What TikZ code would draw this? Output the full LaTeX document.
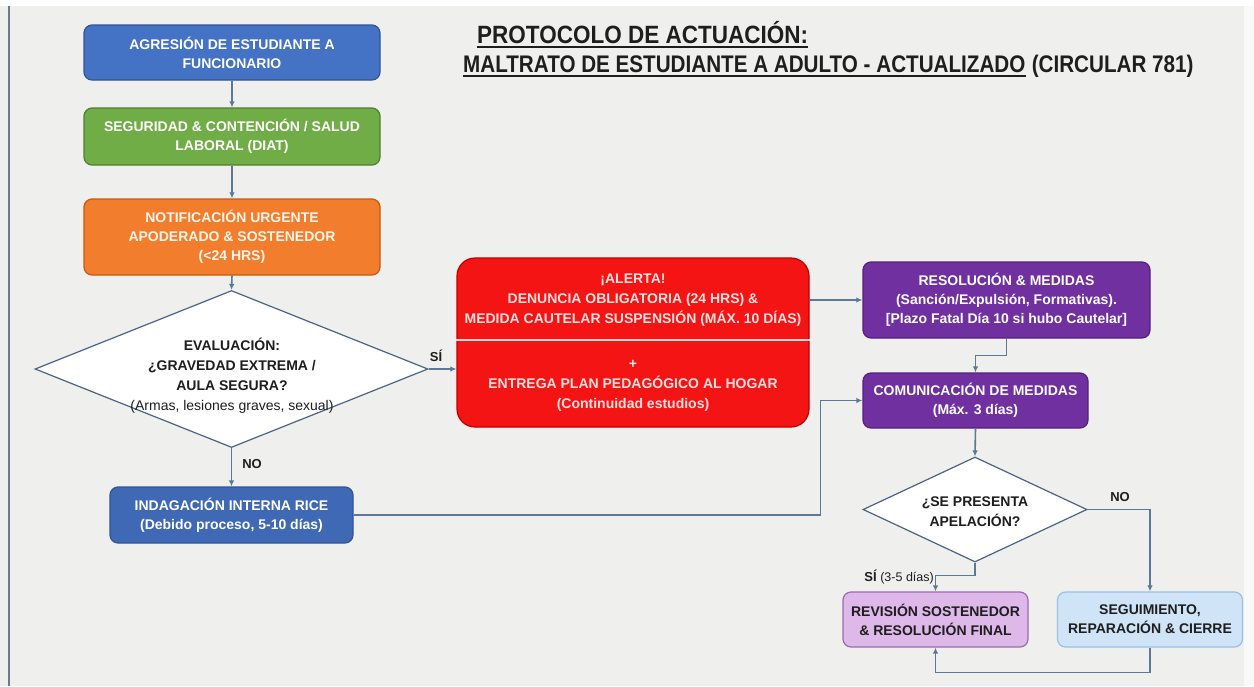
\documentclass[tikz,border=0pt]{standalone}
\usepackage{fontspec}
\setmainfont{Liberation Sans}
\newfontfamily\tA{Liberation Sans}[FakeStretch=0.9]
\newfontfamily\tB{Liberation Sans}[FakeStretch=0.86]
\usetikzlibrary{shapes.geometric,arrows.meta,calc}
\definecolor{bgcol}{HTML}{EFEFED}
\definecolor{framecol}{HTML}{6E7A8A}
\definecolor{blueF}{HTML}{4472C4}
\definecolor{blueD}{HTML}{2F5597}
\definecolor{greenF}{HTML}{70AD47}
\definecolor{greenD}{HTML}{507E32}
\definecolor{orangeF}{HTML}{F27D2C}
\definecolor{orangeD}{HTML}{C55A11}
\definecolor{redF}{HTML}{F41414}
\definecolor{redD}{HTML}{C00000}
\definecolor{purpF}{HTML}{7030A0}
\definecolor{purpD}{HTML}{55207E}
\definecolor{lpurpF}{HTML}{DDB8E8}
\definecolor{lpurpD}{HTML}{9A6AB4}
\definecolor{lblueF}{HTML}{CFE4F7}
\definecolor{lblueD}{HTML}{9DBFE0}
\definecolor{lineC}{HTML}{5B7896}
\definecolor{darkT}{HTML}{1E1E1E}
\definecolor{diaD}{HTML}{4A6482}
\begin{document}
\begin{tikzpicture}[x=1pt,y=-1pt,
  box/.style={rounded corners=8pt, draw, line width=1.2pt, align=center,
    font={\bfseries\fontsize{14}{19}\selectfont}, text=white, inner sep=0pt},
  dia/.style={diamond, draw=diaD, fill=white, line width=1.2pt, inner sep=0pt, aspect=2.5},
  dtext/.style={align=center, text=darkT, font={\bfseries\fontsize{14}{20}\selectfont}, inner sep=0pt},
  lab/.style={text=darkT, font={\bfseries\fontsize{13}{16}\selectfont}, inner sep=0pt},
  conn/.style={draw=lineC, line width=1.6pt, -{Latex[length=6pt,width=5.5pt]}},
  ttl/.style={anchor=base west, inner sep=0pt, text=darkT},
  uline/.style={draw=darkT, line width=1.8pt}
]
\useasboundingbox (0,0) rectangle (1254,686);
\fill[bgcol] (0,0) rectangle (1254,686);
\fill[white] (0,0) rectangle (1254,6);
\fill[white!60!bgcol] (1244,6) rectangle (1254,686);
\draw[framecol, line width=2pt] (9,6) -- (9,686);

% title
\node[ttl, font={\tA\bfseries\fontsize{25}{30}\selectfont}] (t1) at (477,43) {PROTOCOLO DE ACTUACIÓN:};
\node[ttl, font={\tB\bfseries\fontsize{24}{28}\selectfont}] (t2) at (463,72) {MALTRATO DE ESTUDIANTE A ADULTO - ACTUALIZADO};
\node[ttl, font={\tB\bfseries\fontsize{24}{28}\selectfont}] (t3) at ([xshift=6pt]t2.base east) {(CIRCULAR 781)};
\draw[uline] ([yshift=-4pt]t1.base west) -- ([yshift=-4pt]t1.base east);
\draw[uline] ([yshift=-4pt]t2.base west) -- ([yshift=-4pt]t2.base east);

% left column
\node[box, fill=blueF, draw=blueD, minimum width=296pt, minimum height=55pt] (b1) at (232,52.5)
  {AGRESIÓN DE ESTUDIANTE A\\FUNCIONARIO};
\node[box, fill=greenF, draw=greenD, minimum width=296pt, minimum height=57pt] (b2) at (232,136.5)
  {SEGURIDAD \& CONTENCIÓN / SALUD\\LABORAL (DIAT)};
\node[box, fill=orangeF, draw=orangeD, minimum width=296pt, minimum height=76pt, text=white!92!orange] (b3) at (232,237)
  {NOTIFICACIÓN URGENTE\\APODERADO \& SOSTENEDOR\\(<24 HRS)};
\node[dia, minimum width=393pt, minimum height=157pt] (d1) at (231.5,369) {};
\node[dtext] (d1t) at (232,376)
  {EVALUACIÓN:\\¿GRAVEDAD EXTREMA /\\AULA SEGURA?\\{\mdseries (Armas, lesiones graves, sexual)}};
\node[box, fill=blueF!92!black, draw=blueD, minimum width=243pt, minimum height=56pt] (b4) at (231.5,515)
  {INDAGACIÓN INTERNA RICE\\(Debido proceso, 5-10 días)};

% red alert box
\node[box, rounded corners=18pt, fill=redF, draw=redD, minimum width=352pt, minimum height=169pt,
  text=white!88!red, font={\bfseries\fontsize{14}{20}\selectfont}] (red) at (633,342.5)
  {¡ALERTA!\\DENUNCIA OBLIGATORIA (24 HRS) \&\\MEDIDA CAUTELAR SUSPENSIÓN (MÁX. 10 DÍAS)\\[25pt]+\\ENTREGA PLAN PEDAGÓGICO AL HOGAR\\(Continuidad estudios)};
\draw[white!85!red, line width=1.5pt] ([yshift=2.5pt]red.west) -- ([yshift=2.5pt]red.east);

% right column
\node[box, fill=purpF, draw=purpD, minimum width=287pt, minimum height=76pt] (p1) at (1006.5,300)
  {RESOLUCIÓN \& MEDIDAS\\(Sanción/Expulsión, Formativas).\\{[Plazo Fatal Día 10 si hubo Cautelar]}};
\node[box, fill=purpF, draw=purpD, minimum width=225pt, minimum height=55pt] (p2) at (975.5,400.5)
  {COMUNICACIÓN DE MEDIDAS\\(Máx. 3 días)};
\node[dia, minimum width=224pt, minimum height=105pt] (d2) at (975,509.5) {};
\node[dtext] (d2t) at (975,512) {¿SE PRESENTA\\APELACIÓN?};
\node[box, fill=lpurpF, draw=lpurpD, text=darkT, minimum width=185pt, minimum height=55pt] (r) at (935.5,619.5)
  {REVISIÓN SOSTENEDOR\\\& RESOLUCIÓN FINAL};
\node[box, fill=lblueF, draw=lblueD, text=darkT, minimum width=185pt, minimum height=55pt] (s) at (1150,619.5)
  {SEGUIMIENTO,\\REPARACIÓN \& CIERRE};

% connectors
\draw[conn] (b1.south) -- (b2.north);
\draw[conn] (b2.south) -- (b3.north);
\draw[conn] (b3.south) -- (d1.north);
\draw[conn] (d1.south) -- (b4.north);
\draw[conn] (d1.east) -- (d1.east -| red.west);
\draw[conn] (p1.west -| red.east) -- (p1.west);
\draw[conn] (p1.south) -- ++(0,17) -| (p2.north);
\draw[conn] (b4.east) -| ([xshift=-42pt]p2.west) -- (p2.west);
\draw[conn] (p2.south) -- (d2.north);
\draw[conn] (d2.east) -| (s.north);
\draw[conn] (d2.south) -- ++(0,13) -| (r.north);
\draw[conn] (s.south) -- ++(0,25) -| (r.south);

% labels
\node[lab] (lsi) at (436,356) {SÍ};
\node[lab] (lno) at (252,464) {NO};
\node[lab] (lno2) at (1120,497) {NO};
\node[lab, anchor=east] (lsi2) at (934,577) {SÍ {\mdseries\fontsize{12.5}{14}\selectfont (3-5 días)}};
\end{tikzpicture}
\end{document}
